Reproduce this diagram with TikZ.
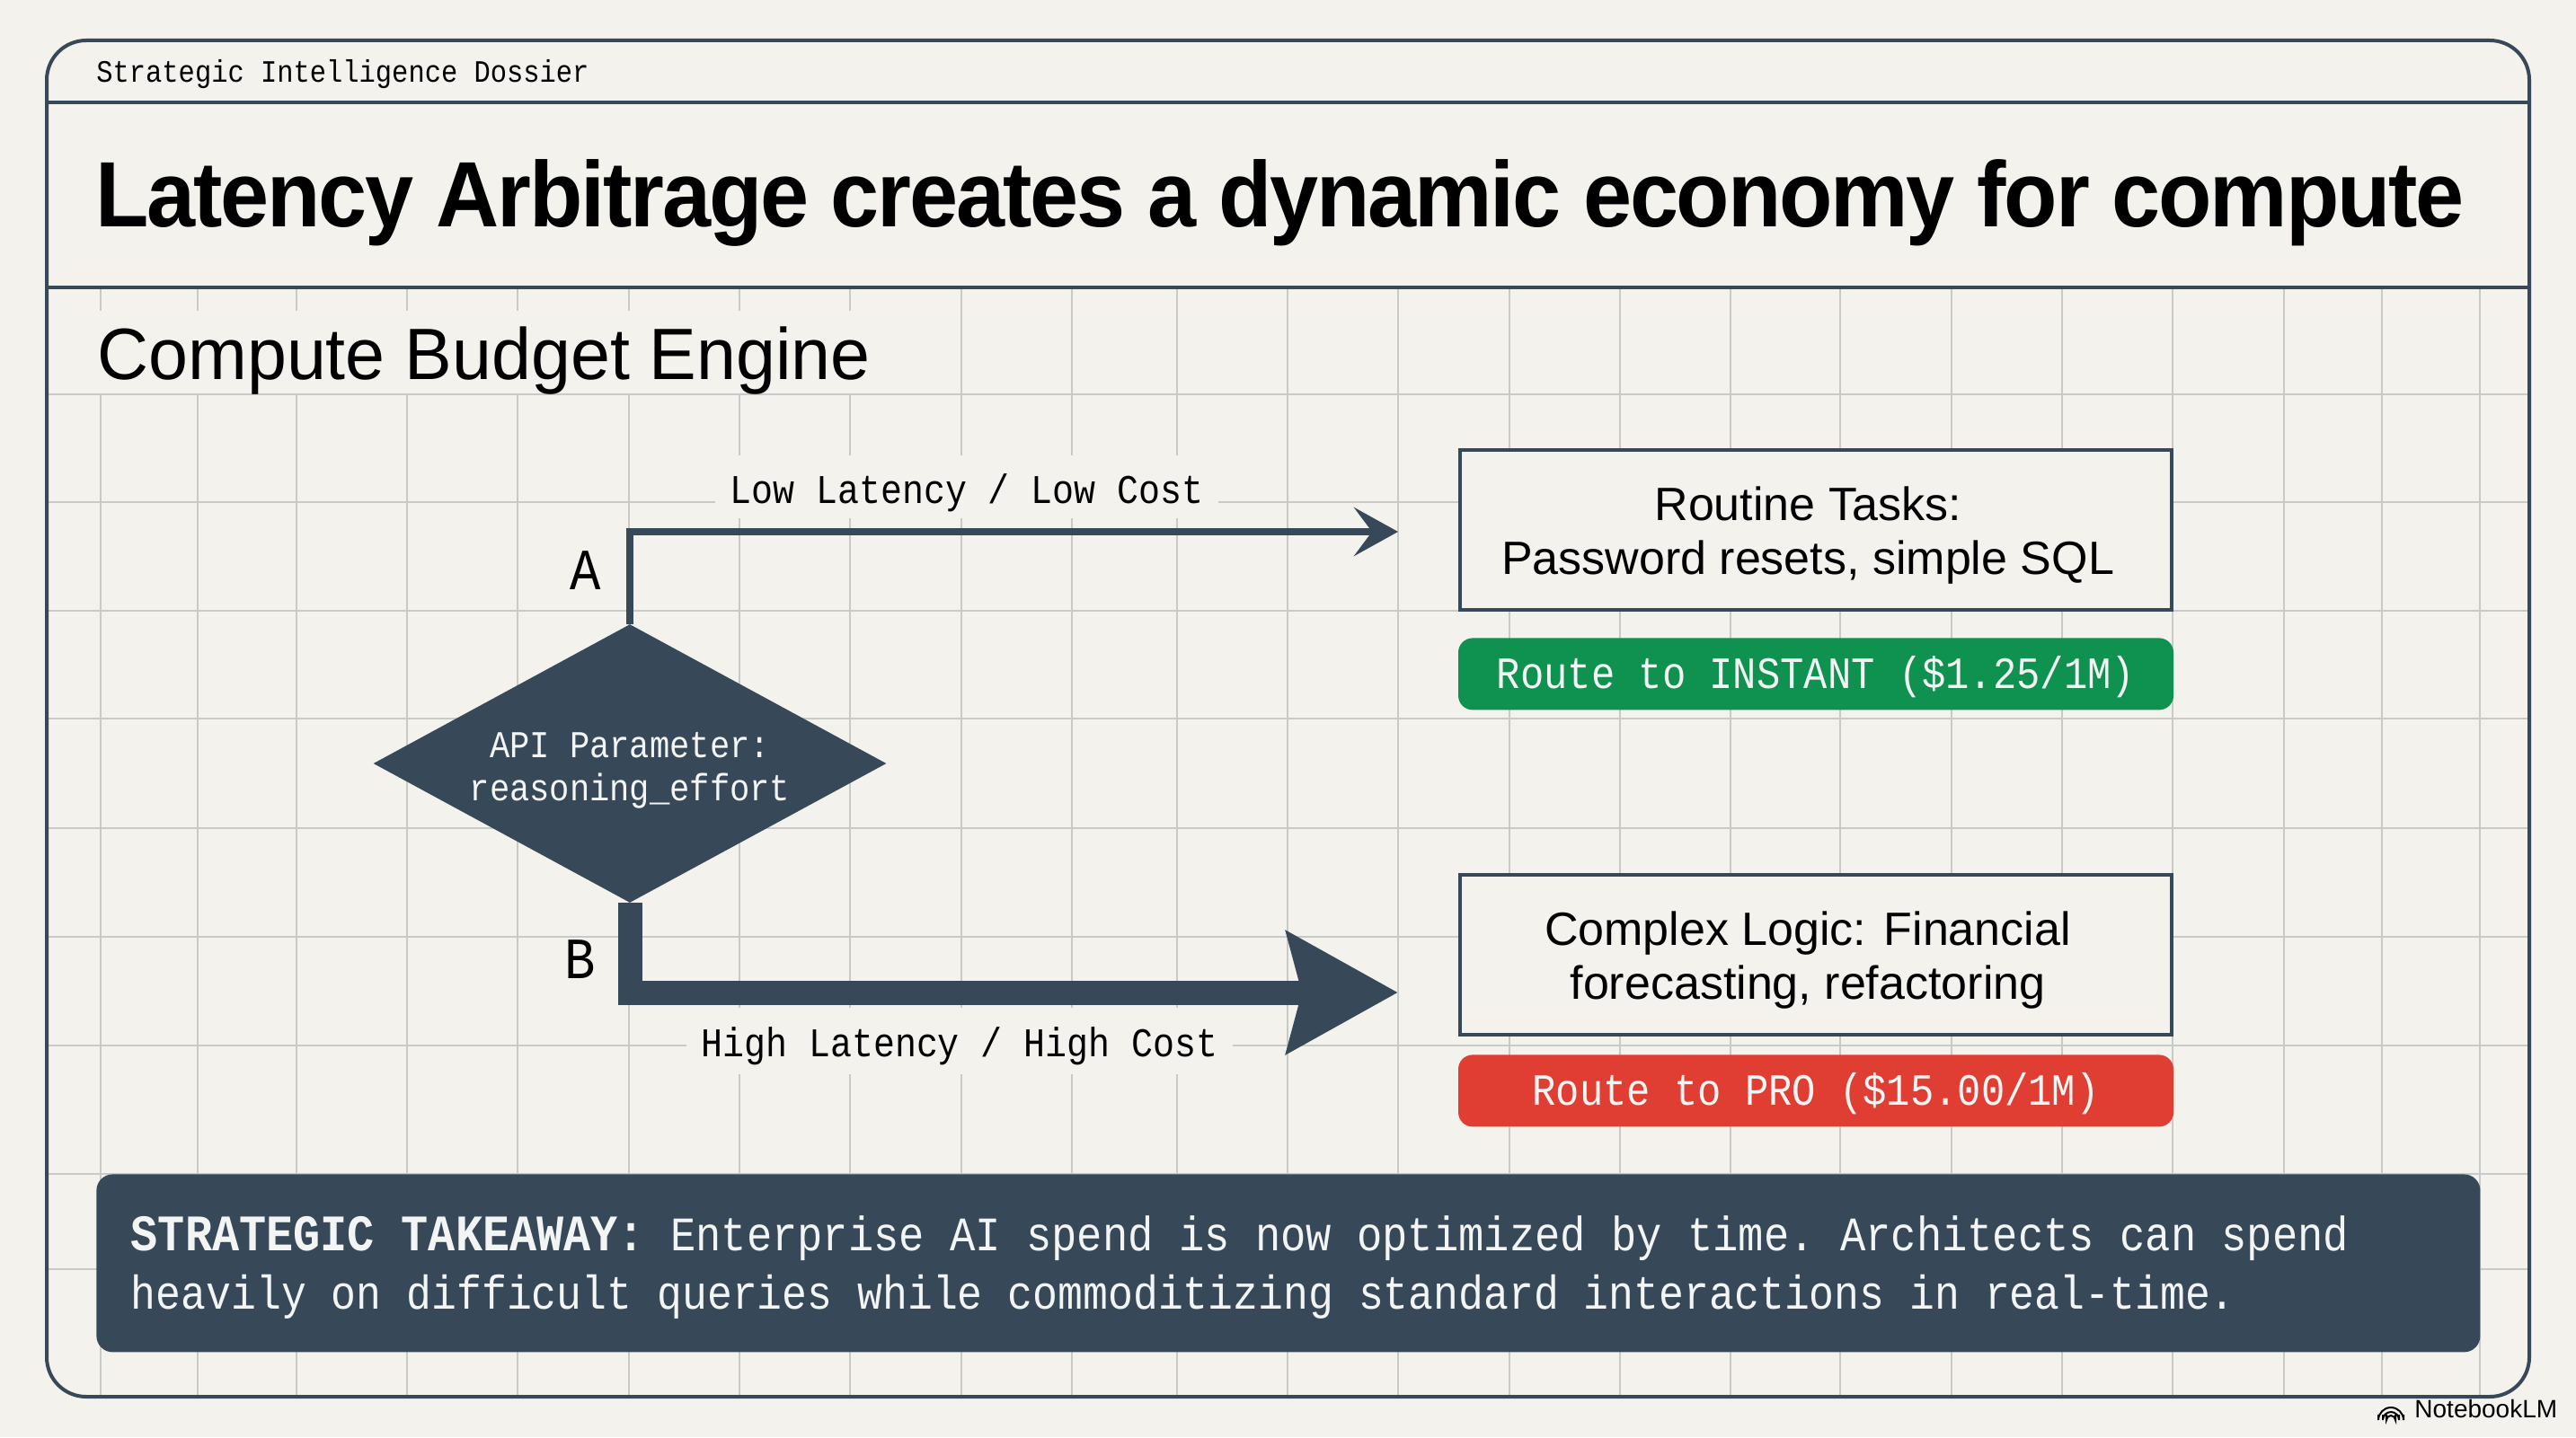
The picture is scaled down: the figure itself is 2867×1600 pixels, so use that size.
\documentclass[tikz,border=0pt]{standalone}
\usepackage{fontspec}
\setmainfont{Liberation Sans}
\setmonofont[FakeStretch=0.88]{Liberation Mono}
\newfontfamily\headfont[FakeStretch=0.94,LetterSpace=-2.1]{Liberation Sans}
\newfontfamily\enginefont[FakeStretch=0.975]{Liberation Sans}
\usetikzlibrary{positioning,arrows.meta,shapes.geometric}
\definecolor{paper}{HTML}{F3F2EC}
\definecolor{slate}{HTML}{374858}
\definecolor{gridline}{HTML}{C8CAC7}
\definecolor{routegreen}{HTML}{0F9150}
\definecolor{routered}{HTML}{E03E33}
\definecolor{pale}{HTML}{F2F5F4}

\begin{document}
\begin{tikzpicture}[
  x=0.5pt, y=-0.5pt,
  sheet/.style={draw=slate, line width=2pt},
  gridrule/.style={draw=gridline, line width=1.2pt},
  label/.style={font=\fontsize{22.7pt}{26pt}\selectfont\ttfamily, fill=paper, inner ysep=0pt, inner xsep=8pt, anchor=base},
  branch/.style={font=\fontsize{32.5pt}{36pt}\selectfont\ttfamily, anchor=base, inner sep=0pt},
  task/.style={draw=slate, line width=2pt, fill=paper, align=center, minimum width=396pt, minimum height=89pt, inner sep=0pt, font=\fontsize{26pt}{30pt}\selectfont},
  route/.style={rounded corners=8pt, minimum width=398pt, minimum height=40pt, inner sep=0pt, text height=19.5pt, text depth=3pt, text=pale, font=\fontsize{24.9pt}{28pt}\selectfont\ttfamily},
  thin arrow/.style={draw=slate, line width=4.2pt, -{Stealth[length=24.5pt,width=27pt,inset=10pt]}},
  fat arrow/.style={draw=slate, line width=13.5pt, -{Stealth[length=61.5pt,width=66.5pt,inset=8pt]}}
]
\fill[paper] (0,0) rectangle (2867,1600);
\useasboundingbox (0,0) rectangle (2867,1600);

\foreach \gx in {112,220,330,453,576,700,823,946,1070,1193,1310,1433,1556,1680,1803,1926,2048,2172,2295,2418,2542,2651,2760}
  \draw[gridrule] (\gx,320) -- (\gx,1555);
\foreach \gy in {439,559,680,800,922,1043,1164,1307,1413}
  \draw[gridrule] (52,\gy) -- (2815,\gy);

\draw[sheet, rounded corners=22pt] (52,45) rectangle (2815,1555);
\draw[sheet] (52,114) -- (2815,114);
\draw[sheet] (52,320) -- (2815,320);

\node[anchor=base west, inner sep=0pt, font=\fontsize{17.3pt}{20pt}\selectfont\ttfamily] (dossier) at (107,91) {Strategic Intelligence Dossier};
\node[anchor=base west, inner sep=0pt, font=\fontsize{51.7pt}{60pt}\selectfont\headfont\bfseries] (headline) at (106,252) {Latency Arbitrage creates a dynamic economy for compute};
\node[anchor=base west, fill=paper, inner xsep=4pt, inner ysep=0pt, text height=38pt, text depth=8pt, font=\fontsize{40.5pt}{46pt}\selectfont\enginefont] (engine) at (100,422) {Compute Budget Engine};

\node[task] (routine) at (2021,590) {\rule{0pt}{25pt}Routine Tasks:\hspace*{9pt}\\Password resets, simple SQL\hspace*{9pt}};
\node[route, fill=routegreen, below=14.5pt of routine] (instant) {Route to INSTANT (\$1.25/1M)};
\node[task] (complex) at (2021,1063) {\rule{0pt}{25pt}Complex Logic: Financial\hspace*{9pt}\\forecasting, refactoring\hspace*{9pt}};
\node[route, fill=routered, below=10pt of complex] (pro) {Route to PRO (\$15.00/1M)};

\node[diamond, aspect=1.86, fill=slate, minimum width=285.5pt, minimum height=155pt, inner sep=0pt, align=center, text=pale, font=\fontsize{21.1pt}{24pt}\selectfont\ttfamily] (param) at (701,850) {\rule{0pt}{22pt}API Parameter:\\reasoning\_effort};

\coordinate (tipa) at (1556,592);
\coordinate (tipb) at (1556,1105);
\draw[thin arrow] (param.north) |- (tipa);
\draw[fat arrow] (param.south) |- (tipb);

\node[branch] (brancha) at (652,656) {A};
\node[branch] (branchb) at (646,1089) {B};
\node[label, text height=26.5pt, text depth=8.5pt] (lowcost) at (1076,560) {Low Latency / Low Cost};
\node[label, text height=27pt, text depth=10pt] (highcost) at (1068,1176) {High Latency / High Cost};

\node[fill=slate, rounded corners=9pt, anchor=north west, minimum width=1326.5pt, minimum height=99pt, text width=1288pt, inner xsep=19pt, inner ysep=0pt, align=left, text=pale, font=\fontsize{26.8pt}{32.5pt}\selectfont\ttfamily] (takeaway) at (107,1307) {\frenchspacing\spaceskip=14.16pt\rule{0pt}{24pt}{\fontsize{28.5pt}{32.5pt}\selectfont\spaceskip=15.06pt\textbf{STRATEGIC TAKEAWAY:}} Enterprise AI spend is now optimized by time. Architects can spend\\\fontsize{26.4pt}{32.5pt}\selectfont\spaceskip=13.95pt heavily on difficult queries while commoditizing standard interactions in real-time.};

\node[anchor=base west, inner sep=0pt, font=\fontsize{14pt}{16pt}\selectfont] (notebook) at (2687,1578) {NotebookLM};
\foreach \r in {7,4.5,2.5}
  \draw[line width=1pt] (2661,1575) ++(-\r pt,0) -- ++(0,-3pt) arc[start angle=180, end angle=0, radius=\r pt] -- ++(0,3pt);
\end{tikzpicture}
\end{document}
